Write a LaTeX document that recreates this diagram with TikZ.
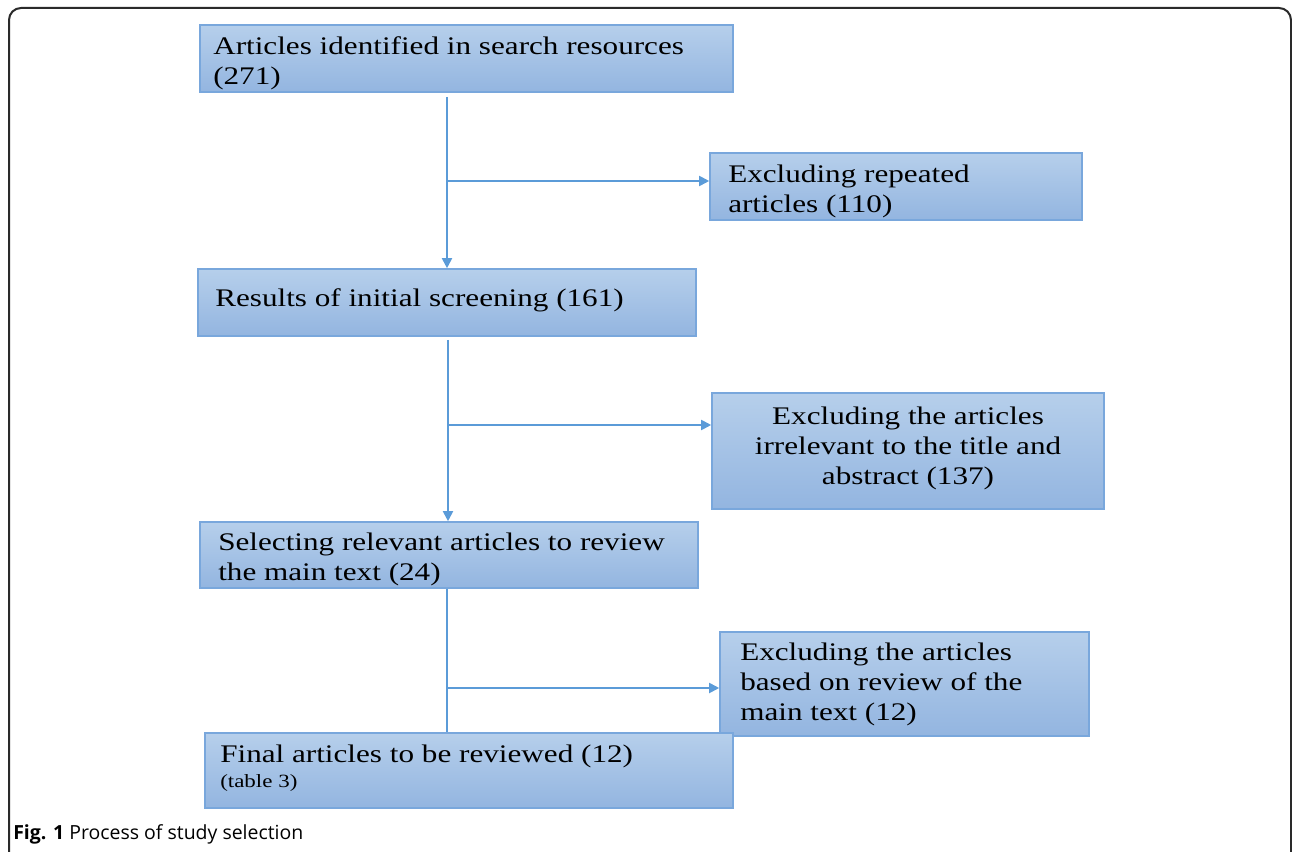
\documentclass[tikz,border=0pt]{standalone}
\usepackage{fontspec}
\setmainfont{Liberation Serif}
\newfontfamily\boxfont[FakeStretch=1.23]{Liberation Serif}
\newfontfamily\capfont{Open Sans}
\usetikzlibrary{arrows.meta,fit}
\definecolor{boxtop}{HTML}{B6CFEB}
\definecolor{boxbot}{HTML}{93B5E0}
\definecolor{boxline}{HTML}{79A7DC}
\definecolor{arrowc}{HTML}{5B9BD8}
\definecolor{framec}{HTML}{2A2A2A}
\begin{document}
\begin{tikzpicture}[x=0.75pt,y=-0.75pt,
  box/.style={draw=boxline, line width=1.2pt, top color=boxtop, bottom color=boxbot, inner sep=0pt},
  txt/.style={inner sep=0pt, font=\boxfont\fontsize{19}{22.5}\selectfont, align=left, anchor=base west},
  ctxt/.style={inner sep=0pt, font=\boxfont\fontsize{19}{22.5}\selectfont, align=center, anchor=base},
  conn/.style={draw=arrowc, line width=1.4pt},
  arr/.style={conn, -{Triangle[length=7.5pt,width=7.5pt]}}]
\useasboundingbox (0,0) rectangle (1292,852);
\begin{scope}
\clip (0,0) rectangle (1292,852);
\draw[framec, line width=1.5pt, rounded corners=9] (9,8) rectangle (1291,900);
\end{scope}
% boxes
\node[box, fit={(200,25) (733,92)}] (b1) {};
\node[box, fit={(710,153) (1082,220)}] (e1) {};
\node[box, fit={(198,269) (696,336)}] (b2) {};
\node[box, fit={(712,393) (1104,509)}] (e2) {};
\node[box, fit={(200,522) (698,588)}] (b3) {};
\node[box, fit={(720,632) (1089,736)}] (e3) {};
\node[box, fit={(205,733) (733,808)}] (b4) {};
% texts (anchored at the baseline of their last line)
\node[txt] (t1) at (213,85) {Articles identified in search resources\\(271)};
\node[txt] (t2) at (728,213) {Excluding repeated\\articles (110)};
\node[txt] (t3) at (215,306) {Results of initial screening (161)};
\node[ctxt] (t4) at (908,484) {Excluding the articles\\irrelevant to the title and\\abstract (137)};
\node[txt] (t5) at (218,580) {Selecting relevant articles to review\\the main text (24)};
\node[txt] (t6) at (740,720) {Excluding the articles\\based on review of the\\main text (12)};
\node[txt] (t7) at (220,787) {Final articles to be reviewed (12)\\[-4pt]{\fontsize{14}{16}\selectfont(table 3)}};
% connectors
\coordinate (j1) at (447,181);
\coordinate (j2) at (448,425);
\coordinate (j3) at (447,688);
\draw[arr] (b1.south -| j1) ++(0,4) -- (b2.north -| j1);
\draw[arr] (j1) -- (e1.west |- j1);
\draw[arr] (b2.south -| j2) ++(0,3) -- (b3.north -| j2);
\draw[arr] (j2) -- (e2.west |- j2);
\draw[conn] (b3.south -| j3) -- (b4.north -| j3);
\draw[arr] (j3) -- (e3.west |- j3);
% caption
\node[inner sep=0pt, anchor=base west, font=\capfont\fontsize{14.6}{17}\selectfont] (cap) at (13,839) {\textbf{Fig. 1} Process of study selection};
\end{tikzpicture}
\end{document}
